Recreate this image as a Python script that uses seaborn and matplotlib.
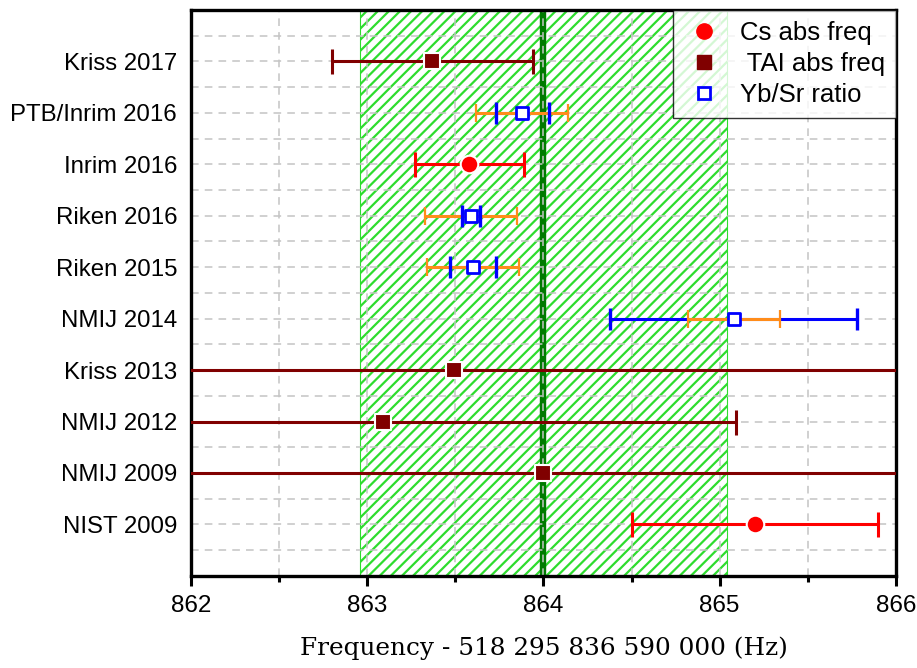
import numpy as np
import pandas as pd
import matplotlib
matplotlib.use('Agg')
import matplotlib.pyplot as plt
import seaborn as sns
from matplotlib.lines import Line2D
from matplotlib.ticker import MultipleLocator

# measurements, bottom to top
labels = ['NIST 2009', 'NMIJ 2009', 'NMIJ 2012', 'Kriss 2013', 'NMIJ 2014',
          'Riken 2015', 'Riken 2016', 'Inrim 2016', 'PTB/Inrim 2016', 'Kriss 2017']

cs_lab = ['NIST 2009', 'Inrim 2016']
cs_val = [865.20, 863.58]
cs_err = [0.70, 0.31]

tai_lab = ['NMIJ 2009', 'NMIJ 2012', 'Kriss 2013', 'Kriss 2017']
tai_val = [864.00, 863.09, 863.49, 863.37]
tai_err = [28.0, 2.0, 8.1, 0.57]

ybsr_lab = ['NMIJ 2014', 'Riken 2015', 'Riken 2016', 'PTB/Inrim 2016']
ybsr_val = [865.08, 863.60, 863.59, 863.88]
ybsr_err = [0.70, 0.13, 0.05, 0.15]
sr_err = [0.26, 0.26, 0.26, 0.26]

band_lo, band_hi = 862.96, 865.04
band_center = 864.0

pos = {l: i + 1 for i, l in enumerate(labels)}

sns.set_theme(style='white')
plt.rcParams['font.family'] = ['Liberation Sans', 'DejaVu Sans']
plt.rcParams['hatch.linewidth'] = 1.6
for k in ['text.color', 'axes.labelcolor', 'xtick.color', 'ytick.color']:
    plt.rcParams[k] = 'black'

fig = plt.figure(figsize=(9.17, 6.68), dpi=100)
ax = fig.add_axes([0.2083, 0.138, 0.7687, 0.847])

# hatched band + center line
ax.axvspan(band_lo, band_hi, facecolor='white', edgecolor='#2edc2e', hatch='///', lw=0.8, zorder=1)
ax.axvline(band_center, color='#007a00', lw=4.6, zorder=1.2)

lw = 2.2
# Cs
ax.errorbar(cs_val, [pos[l] for l in cs_lab], xerr=cs_err, fmt='none', ecolor='red',
            elinewidth=lw, capsize=9, capthick=2.2, zorder=3)
# TAI
ax.errorbar(tai_val, [pos[l] for l in tai_lab], xerr=tai_err, fmt='none', ecolor='#800000',
            elinewidth=lw, capsize=9, capthick=2.2, zorder=3)
# Yb/Sr: blue total, orange Sr part on top, blue caps above all
yb_y = [pos[l] for l in ybsr_lab]
eb_b = ax.errorbar(ybsr_val, yb_y, xerr=ybsr_err, fmt='none', ecolor='#0000ff',
                   elinewidth=lw, capsize=8, capthick=2.4, zorder=3)
ax.errorbar(ybsr_val, yb_y, xerr=sr_err, fmt='none', ecolor='#ff8c1a',
            elinewidth=lw, capsize=6.5, capthick=1.6, zorder=3.2)
for c in eb_b[1]:
    c.set_zorder(3.4)

cs_df = pd.DataFrame({'x': cs_val, 'y': [pos[l] for l in cs_lab]})
tai_df = pd.DataFrame({'x': tai_val, 'y': [pos[l] for l in tai_lab]})
yb_df = pd.DataFrame({'x': ybsr_val, 'y': yb_y})
sns.scatterplot(data=cs_df, x='x', y='y', marker='o', s=160, color='red',
                edgecolor='white', linewidth=1.5, ax=ax, zorder=5)
sns.scatterplot(data=tai_df, x='x', y='y', marker='s', s=120, color='#800000',
                edgecolor='white', linewidth=1.5, ax=ax, zorder=5)
sns.scatterplot(data=yb_df, x='x', y='y', marker='s', s=85, facecolor='white',
                edgecolor='#0000ff', linewidth=2, ax=ax, zorder=5)

ax.set_xlim(862, 866)
ax.set_ylim(0, 11)
ax.xaxis.set_major_locator(MultipleLocator(1))
ax.xaxis.set_minor_locator(MultipleLocator(0.5))
ax.set_yticks(range(1, 11))
ax.set_yticklabels(labels)
ax.yaxis.set_minor_locator(MultipleLocator(0.5))

ax.set_axisbelow('line')
ax.grid(True, which='both', color='#c4c4c4', linestyle=(0, (5, 4)), lw=1.1)

ax.tick_params(axis='x', which='major', direction='out', length=7, width=2.2,
               labelsize=17.5, color='black', bottom=True, pad=7)
ax.tick_params(axis='x', which='minor', direction='out', length=4, width=2.2,
               color='black', bottom=True)
ax.tick_params(axis='y', which='both', length=0, labelsize=17.3, pad=10)
for s in ax.spines.values():
    s.set_linewidth(2.4)
    s.set_color('black')

ax.set_xlabel('Frequency - 518 295 836 590 000 (Hz)', family=['DejaVu Serif'],
              fontsize=17.8, labelpad=14)
ax.set_ylabel('')

handles = [
    Line2D([], [], ls='none', marker='o', ms=11, color='red', mec='red'),
    Line2D([], [], ls='none', marker='s', ms=10, color='#800000', mec='#800000'),
    Line2D([], [], ls='none', marker='s', ms=9, mfc='white', mec='#0000ff', mew=2),
]
leg = ax.legend(handles, ['Cs abs freq', ' TAI abs freq', 'Yb/Sr ratio'],
                loc='upper right', fontsize=18.5, frameon=True, fancybox=False,
                borderaxespad=0, handletextpad=0.6, labelspacing=0.28,
                borderpad=0.42, handlelength=1.6)
leg.get_frame().set_edgecolor('black')
leg.get_frame().set_linewidth(1.0)
leg.set_zorder(10)

fig.savefig('out.png', dpi=100)
